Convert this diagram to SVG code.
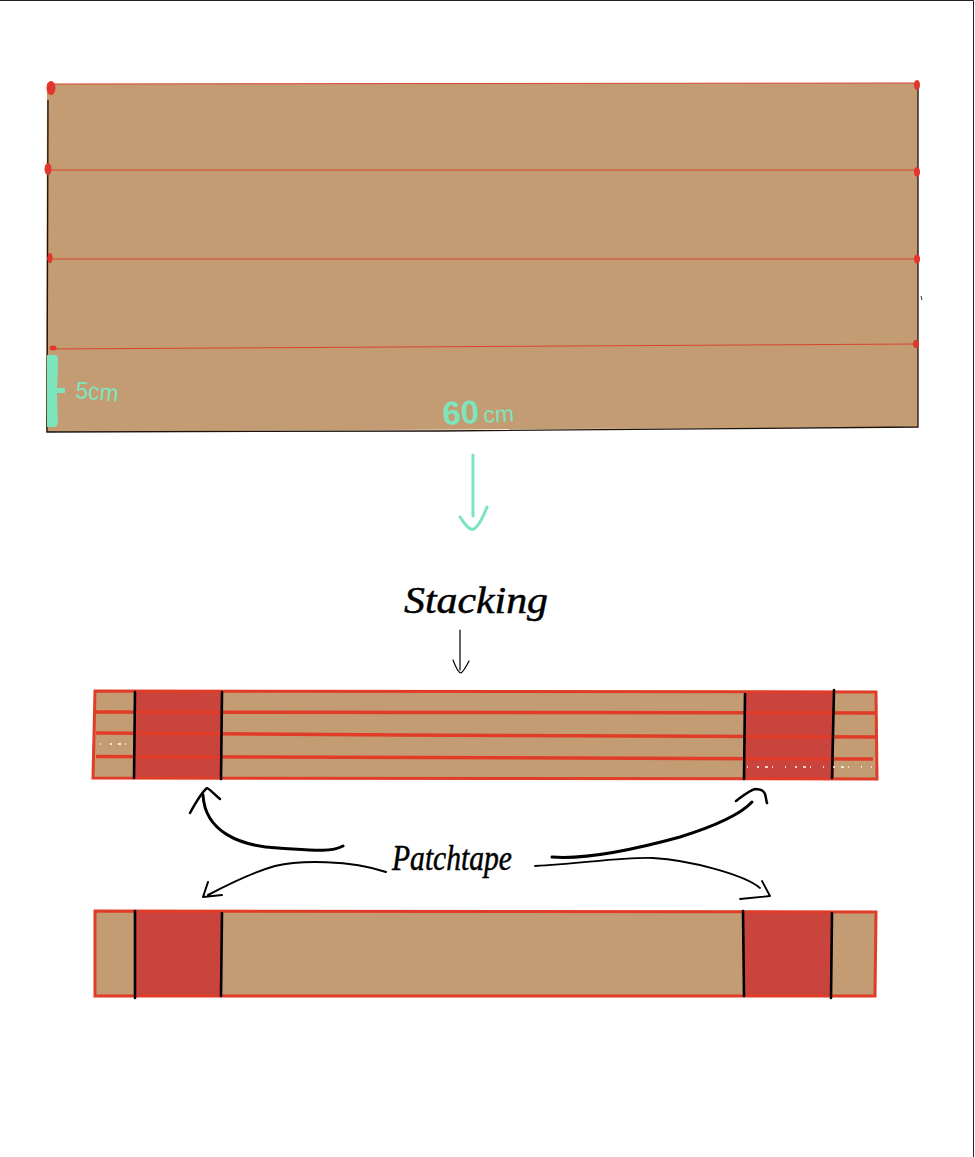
<svg xmlns="http://www.w3.org/2000/svg" width="975" height="1157" viewBox="0 0 975 1157">
<style>
.kraft{fill:#c39c73}
.patch{fill:#c9443c}
.edge{fill:none;stroke:#e03c28;stroke-width:3}
.seam{fill:none;stroke:#e03c28;stroke-width:3.5}
.thin{fill:none;stroke:#d9442f;stroke-width:1}
.blk{fill:none;stroke:#000;stroke-linecap:round;stroke-linejoin:round}
.bar{fill:none;stroke:#000;stroke-width:2.6;stroke-linecap:round}
.grn{fill:none;stroke:#7de5bd;stroke-linecap:round;stroke-linejoin:round}
.dot{fill:#e2352c}
.spk{fill:none;stroke:#fff;stroke-width:1.4;stroke-dasharray:1 9 2 6 3 4 1 12}
.hand{font-family:"Liberation Serif",serif;font-style:italic;fill:#000}
.gt{font-family:"Liberation Sans",sans-serif;fill:#7de5bd}
</style>
<rect width="975" height="1157" fill="#fff"/>
<g id="page-border"><path d="M0 .5H973.5V1157" fill="none" stroke="#222" stroke-width="1"/></g>
<g id="sheet">
<polygon class="kraft" points="47,84 918,83 918,427 46,432"/>
<path d="M48 100L47 432L440 431L918 427L918 83" fill="none" stroke="#1c1208" stroke-width="1.3"/>
<path class="thin" d="M47 84L918 83M47 170H918M47 259H918M50 349L918 344"/>
<ellipse class="dot" cx="51" cy="88" rx="4.500" ry="7"/><ellipse class="dot" cx="48" cy="169" rx="3.500" ry="6"/><ellipse class="dot" cx="50" cy="258" rx="2.500" ry="5"/><ellipse class="dot" cx="53" cy="348" rx="3.500" ry="2.500"/>
<ellipse class="dot" cx="917" cy="85" rx="3" ry="5"/><ellipse class="dot" cx="917" cy="172" rx="3" ry="5"/><ellipse class="dot" cx="917" cy="259" rx="3" ry="4.500"/><ellipse class="dot" cx="916" cy="344" rx="3" ry="4"/>
<path d="M921 296l1 4" stroke="#333" stroke-width="1" fill="none"/>
</g>
<g id="dim-5cm">
<path d="M47 355H55Q58 355 58 360Q58 375 57 388H65V393H57Q57 408 58 421Q58 427 53 427H47Z" fill="#7de5bd"/>
<text class="gt" x="75" y="398" font-size="24" textLength="43" lengthAdjust="spacingAndGlyphs" transform="rotate(5 75 398)">5cm</text>
</g>
<g id="dim-60cm">
<text class="gt" x="443" y="425" font-size="33" font-weight="bold" transform="rotate(-3 443 425)">60<tspan dx="4" font-size="23" font-weight="normal">cm</tspan></text>
</g>
<g id="bar-stacked">
<polygon class="kraft" points="95,691 876,692 877,779 93,778"/>
<polygon class="patch" points="135,692 221,692 221,778 135,778"/>
<polygon class="patch" points="745,693 834,693 834,779 745,779"/>
<path class="seam" d="M96 712L876 713M96 733L400 735L876 737M96 756.500L873 759"/>
<polygon class="edge" points="95,691 876,692 877,779 93,778"/>
<path class="bar" d="M135 692L134 778M222 692L221 779M745 694L744 779M834 690L832 778"/>
<path class="spk" d="M100 744H128M747 767H872"/>
</g>
<g id="bar-flat">
<polygon class="kraft" points="95,911 876,912 875,996 95,996"/>
<polygon class="patch" points="135,912 222,912 222,996 135,996"/>
<polygon class="patch" points="744,913 832,913 832,996 744,996"/>
<polygon class="edge" points="95,911 876,912 875,996 95,996"/>
<path class="bar" d="M135 911V998M222 913L221 996M743 911L744 996M832 913L831 998"/>
</g>
<g id="connectors">
<path class="grn" stroke-width="3" d="M473 455V516"/>
<path class="grn" stroke-width="3" d="M460 517C466 526 470 531 474 529C479 526 484 515 487 507"/>
<path class="blk" stroke-width="1.200" d="M460 630V670M453 660C456 668 459 673 461 673C464 671 467 665 469 661"/>
<path class="blk" stroke-width="3" d="M343 846C330 853 310 850 278 848C240 846 205 832 203 795"/>
<path class="blk" stroke-width="2.500" d="M190 813C196 802 202 792 207 788C211 790 216 796 220 799"/>
<path class="blk" stroke-width="2" d="M386 872C350 860 300 860 275 866C250 873 225 886 208 895M208 882L203 897L222 895"/>
<path class="blk" stroke-width="3" d="M552 857C590 860 640 848 680 837C715 826 740 815 752 802"/>
<path class="blk" stroke-width="2.500" d="M736 801C744 795 750 790 755 789C760 789 764 791 765 794C766 797 766 800 767 803"/>
<path class="blk" stroke-width="1.800" d="M535 866C580 864 620 857 653 858C690 860 745 875 760 888M762 881L770 896L740 899"/>
</g>
<g id="label-stacking"><text class="hand" x="404" y="613" font-size="38" stroke="#000" stroke-width=".5" textLength="144" lengthAdjust="spacingAndGlyphs">Stacking</text></g>
<g id="label-patchtape"><text class="hand" x="392" y="870" font-size="36" stroke="#000" stroke-width=".5" textLength="120" lengthAdjust="spacingAndGlyphs">Patchtape</text></g>
</svg>
